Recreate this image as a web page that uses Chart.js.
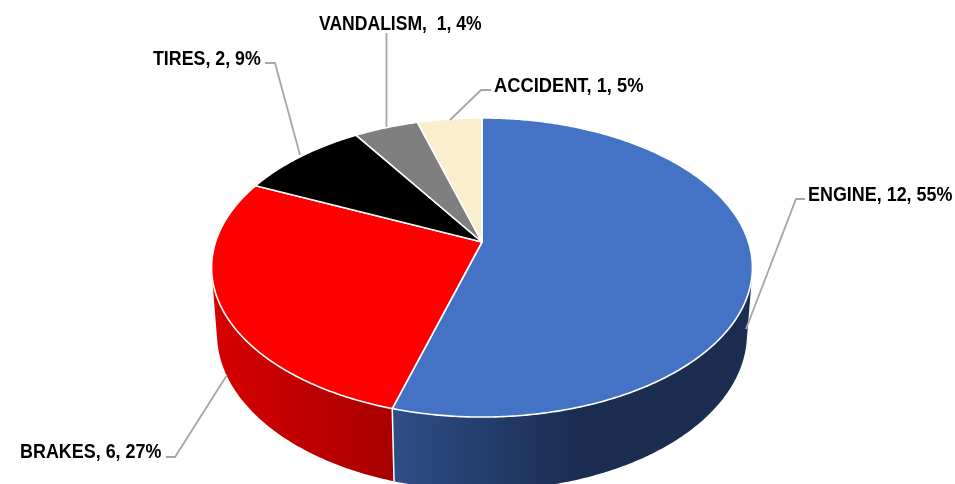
<!DOCTYPE html>
<html>
<head>
<meta charset="utf-8">
<title>Failures by cause</title>
<script src="https://cdn.jsdelivr.net/npm/chart.js@4/dist/chart.umd.min.js"></script>
<style>
  html, body { margin: 0; padding: 0; background: #fff; overflow: hidden; }
  canvas { display: block; }
</style>
</head>
<body>
<canvas id="chart" width="955" height="484"></canvas>
<script>
const categories = ['ENGINE', 'BRAKES', 'TIRES', 'VANDALISM', 'ACCIDENT'];
const counts = [12, 6, 2, 1, 1];
const percentLabels = ['55%', '27%', '9%', '4%', '5%'];

const topColors = ['#4472C4', '#FF0000', '#000000', '#7F7F7F', '#FBEECC'];
// only the two front slices show a side wall
const wallStops = [['#2F4D88', '#1B2E52'], ['#D60000', '#A80000'], null, null, null];
const wallRange = [[392, 575], [215, 392], null, null, null];

// label anchor (left, baseline), width squeeze and leader polyline, per slice
const labelPos = [[808, 201], [20, 458], [153, 65], [319, 30], [494, 92]];
const labelSqueeze = [0.896, 0.896, 0.89, 0.878, 0.915];
const labelGaps = ['', '', '', ' ', ''];
const leaders = [
  [[805, 199], [796, 199], [746, 329]],
  [[166, 457], [175, 457], [227, 375]],
  [[265, 63], [275, 63], [300, 155]],
  [[386.5, 33], [386.5, 127]],
  [[491, 90], [481, 90], [450, 120]]
];

// perspective of the tilted disc, relative to the pie radius
const SX = 1.101, SY = 0.6, K = -0.1706;
const project = (el, a) => {
  const u = Math.cos(a), v = Math.sin(a), d = 1 + K * v;
  return [el.x + el.outerRadius * SX * u / d, el.y + el.outerRadius * SY * v / d];
};
// the bottom rim of the wall is the top rim moved down and a bit narrower
const lowerRim = (el, p) => [el.x + (p[0] - el.x) * 0.98, 332 + (p[1] - 266) * 1.047];

const rimPoints = (el) => {
  const pts = [];
  const n = Math.ceil((el.endAngle - el.startAngle) / 0.01);
  for (let i = 0; i <= n; i++) {
    pts.push(project(el, el.startAngle + (el.endAngle - el.startAngle) * i / n));
  }
  return pts;
};

const tiltedPie = {
  id: 'tiltedPie',
  beforeDatasetsDraw(chart) {
    const ctx = chart.ctx;
    const arcs = chart.getDatasetMeta(0).data;
    ctx.save();

    // side walls, one thin quad per rim step in a single path so there are no seams
    arcs.forEach((el, i) => {
      if (!wallStops[i]) return;
      const rim = rimPoints(el);
      const grad = ctx.createLinearGradient(wallRange[i][0], 0, wallRange[i][1], 0);
      grad.addColorStop(0, wallStops[i][0]);
      grad.addColorStop(1, wallStops[i][1]);
      ctx.beginPath();
      for (let j = 1; j < rim.length; j++) {
        const a = lowerRim(el, rim[j - 1]), b = lowerRim(el, rim[j]);
        // keep every quad wound the same way, the wall turns over at the side edges
        const area = (rim[j][0] - rim[j - 1][0]) * (b[1] - rim[j - 1][1]) - (rim[j][1] - rim[j - 1][1]) * (b[0] - rim[j - 1][0]);
        const quad = area > 0 ? [rim[j - 1], rim[j], b, a] : [a, b, rim[j], rim[j - 1]];
        ctx.moveTo(quad[0][0], quad[0][1]);
        ctx.lineTo(quad[1][0], quad[1][1]);
        ctx.lineTo(quad[2][0], quad[2][1]);
        ctx.lineTo(quad[3][0], quad[3][1]);
        ctx.closePath();
      }
      ctx.fillStyle = grad;
      ctx.fill();
    });

    // white seam between the two walls
    const seam = project(arcs[1], arcs[1].startAngle);
    const seamLow = lowerRim(arcs[1], seam);
    ctx.beginPath();
    ctx.moveTo(seam[0], seam[1]);
    ctx.lineTo(seamLow[0], seamLow[1]);
    ctx.strokeStyle = '#fff';
    ctx.lineWidth = 1.5;
    ctx.stroke();

    // top faces
    arcs.forEach((el, i) => {
      ctx.beginPath();
      ctx.moveTo(el.x, el.y);
      rimPoints(el).forEach((p) => ctx.lineTo(p[0], p[1]));
      ctx.closePath();
      ctx.fillStyle = topColors[i];
      ctx.fill();
      ctx.strokeStyle = '#fff';
      ctx.lineWidth = 1.6;
      ctx.lineJoin = 'round';
      ctx.stroke();
    });

    ctx.restore();
    return false;
  },
  afterDraw(chart) {
    const ctx = chart.ctx;
    ctx.save();
    ctx.strokeStyle = '#A6A6A6';
    ctx.lineWidth = 1.8;
    leaders.forEach((line) => {
      ctx.beginPath();
      line.forEach((p, j) => (j ? ctx.lineTo(p[0], p[1]) : ctx.moveTo(p[0], p[1])));
      ctx.stroke();
    });
    ctx.fillStyle = '#000';
    ctx.font = 'bold 20px "Liberation Sans"';
    ctx.textBaseline = 'alphabetic';
    categories.forEach((name, i) => {
      const text = name + ',' + labelGaps[i] + ' ' + counts[i] + ', ' + percentLabels[i];
      // the original type is narrower than Liberation Sans
      ctx.save();
      ctx.translate(labelPos[i][0], labelPos[i][1]);
      ctx.scale(labelSqueeze[i], 1);
      ctx.fillText(text, 0, 0);
      ctx.restore();
    });
    ctx.restore();
  }
};

new Chart(document.getElementById('chart'), {
  type: 'pie',
  data: {
    labels: categories,
    datasets: [{ data: counts, backgroundColor: topColors, borderWidth: 0 }]
  },
  options: {
    responsive: false,
    animation: false,
    layout: { padding: { left: 9, right: 0, top: 0, bottom: 0 } },
    plugins: { legend: { display: false }, tooltip: { enabled: false } }
  },
  plugins: [tiltedPie]
});
</script>
</body>
</html>
